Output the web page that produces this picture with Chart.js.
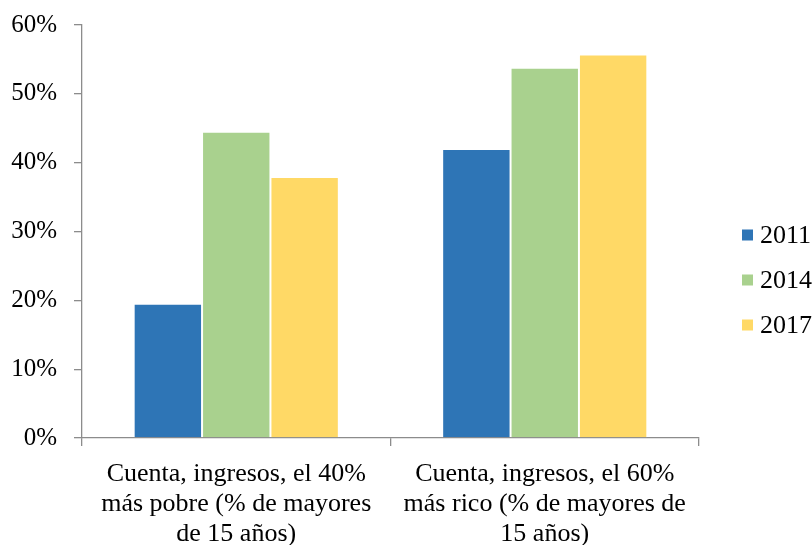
<!DOCTYPE html>
<html>
<head>
<meta charset="utf-8">
<script src="https://cdn.jsdelivr.net/npm/chart.js@4/dist/chart.umd.min.js"></script>
<style>
  html, body { margin: 0; padding: 0; background: #fff; overflow: hidden; }
  #wrap { width: 812px; height: 545px; position: relative; }
</style>
</head>
<body>
<div id="wrap"><canvas id="c" width="812" height="545"></canvas></div>
<script>
// Cuentas bancarias según nivel de ingresos
const categories = [
  ["Cuenta, ingresos, el 40%", "más pobre (% de mayores", "de 15 años)"],
  ["Cuenta, ingresos, el 60%", "más rico (% de mayores de", "15 años)"]
];
const seriesNames = ["2011", "2014", "2017"];
const values2011 = [19.5, 42.0];
const values2014 = [44.5, 53.8];
const values2017 = [37.9, 55.7];
const seriesColors = ["#2E75B6", "#A9D18E", "#FFD966"];

const FONT = "'Liberation Serif', 'Times New Roman', serif";
const AXIS = "#8c8c8c";

// Legend drawn to the right of the plot, one swatch per dataset
const sideLegend = {
  id: 'sideLegend',
  afterDraw(chart) {
    const ctx = chart.ctx;
    ctx.save();
    ctx.font = "26px " + FONT;
    ctx.textBaseline = 'middle';
    chart.data.datasets.forEach((ds, i) => {
      const cy = 235 + i * 45;
      ctx.fillStyle = ds.backgroundColor;
      ctx.fillRect(742, cy - 5.5, 11, 11);
      ctx.fillStyle = '#000';
      ctx.fillText(ds.label, 760, cy + 1);
    });
    ctx.restore();
  }
};

new Chart(document.getElementById('c'), {
  type: 'bar',
  data: {
    labels: categories,
    datasets: [
      { label: seriesNames[0], data: values2011, backgroundColor: seriesColors[0] },
      { label: seriesNames[1], data: values2014, backgroundColor: seriesColors[1] },
      { label: seriesNames[2], data: values2017, backgroundColor: seriesColors[2] }
    ]
  },
  options: {
    responsive: false,
    animation: false,
    layout: { padding: { top: 25, right: 113, left: 0, bottom: 0 } },
    datasets: {
      bar: {
        categoryPercentage: 0.665,
        barPercentage: 1.0,
        borderColor: '#ffffff',
        borderWidth: 1
      }
    },
    plugins: {
      legend: { display: false },
      tooltip: { enabled: false }
    },
    scales: {
      x: {
        grid: { offset: true, drawOnChartArea: false, tickLength: 8, color: AXIS, lineWidth: 1.3 },
        border: { color: AXIS, width: 1.3 },
        ticks: {
          color: '#000',
          font: { family: FONT, size: 26, lineHeight: 1.15 },
          maxRotation: 0, autoSkip: false, padding: 13
        },
        afterFit(scale) { scale.height = 107; scale.paddingLeft = 0; scale.paddingRight = 0; }
      },
      y: {
        min: 0, max: 60,
        grid: { drawOnChartArea: false, tickLength: 8, color: AXIS, lineWidth: 1.3 },
        border: { color: AXIS, width: 1.3 },
        ticks: {
          stepSize: 10,
          color: '#000',
          font: { family: FONT, size: 25 },
          padding: 17,
          callback: v => v + '%'
        },
        afterFit(scale) { scale.width = 82; scale.paddingTop = 0; scale.paddingBottom = 0; }
      }
    }
  },
  plugins: [sideLegend]
});
</script>
</body>
</html>
